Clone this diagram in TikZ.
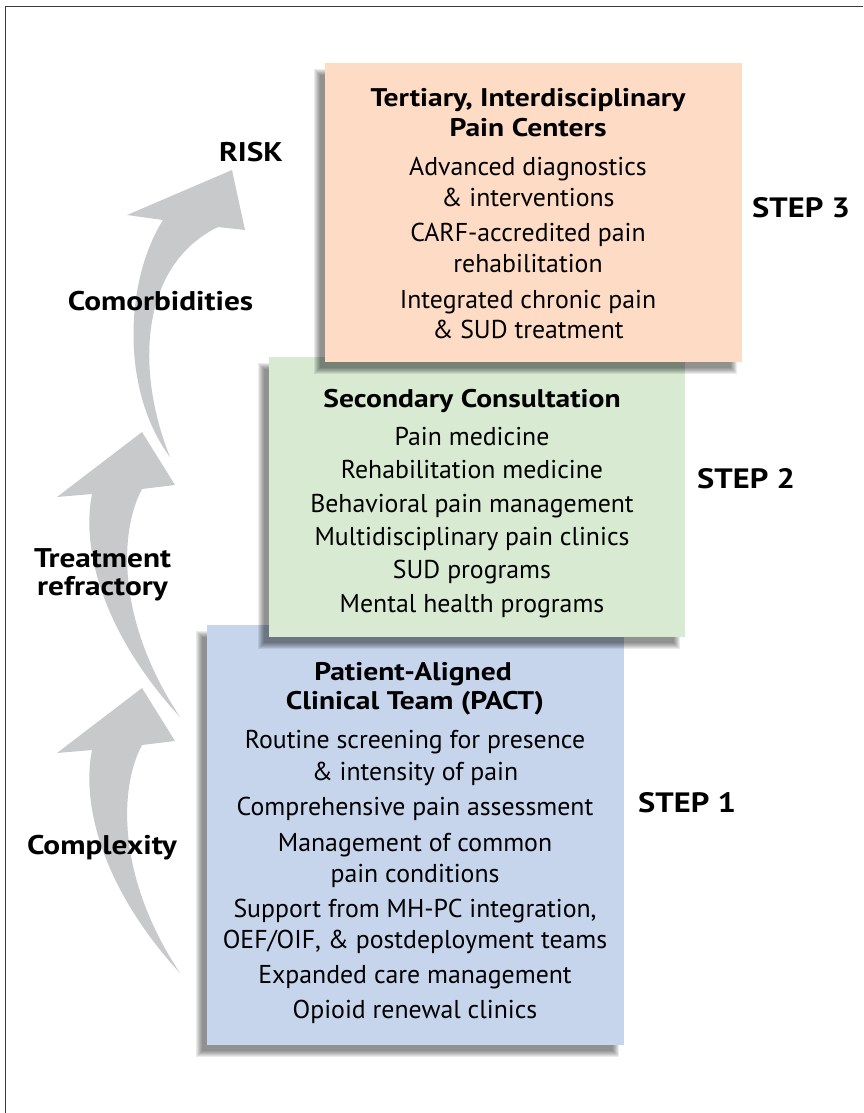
\documentclass[tikz,border=0pt]{standalone}
\usepackage{graphicx}
\usepackage{fontspec}
\setmainfont{PT Sans}
\definecolor{arrowgray}{RGB}{200,201,203}
\definecolor{peach}{RGB}{253,219,197}
\definecolor{mint}{RGB}{217,234,211}
\definecolor{lavblue}{RGB}{198,212,236}
\definecolor{framegray}{RGB}{60,60,60}
\newcommand{\stepshadow}[4]{%
  \foreach \r in {-3,...,3}{%
    \fill[black,opacity=0.08] (#1-8+\r,#2+9+\r) rectangle (#3-8-\r,#4+9-\r);
  }%
}
\newcommand{\bw}[1]{\scalebox{1.16}[1]{#1}}
\begin{document}
\begin{tikzpicture}[x=1pt,y=-1pt,
  stepbox/.style={draw=none,inner sep=0pt,outer sep=0pt,rectangle},
  body/.style={anchor=base,inner sep=0pt,font=\fontsize{25.8}{30}\selectfont},
  hd/.style={anchor=base,inner sep=0pt,font=\fontsize{25.5}{30}\selectfont\bfseries},
  lbl/.style={anchor=base,inner sep=0pt,font=\fontsize{27}{32}\selectfont\bfseries},
  steplbl/.style={anchor=base west,inner sep=0pt,font=\fontsize{28}{32}\selectfont\bfseries},
  curvearrow/.style={fill=arrowgray,draw=none}]
\useasboundingbox (0,0) rectangle (863,1113);
% frame
\draw[framegray,line width=1.5pt] (5.5,1113) -- (5.5,6.5) -- (863,6.5);
% curved arrows
\fill[curvearrow] (180,973) .. controls (108,895) and (80,810) .. (92,750)
  -- (57,753) -- (142,688) -- (175,741) -- (142,745)
  .. controls (118,790) and (118,880) .. (180,973) -- cycle;
\fill[curvearrow] (180,717) .. controls (108,639) and (80,554) .. (92,494)
  -- (57,497) -- (142,432) -- (175,485) -- (142,489)
  .. controls (118,534) and (118,624) .. (180,717) -- cycle;
\fill[curvearrow] (170,457) .. controls (120,390) and (125,280) .. (163,220)
  -- (127,215) -- (232,170) -- (245,230) -- (218,227)
  .. controls (140,265) and (135,370) .. (170,457) -- cycle;
% side labels
\node[lbl] (risk) at (251,161) {\bw{RISK}};
\node[lbl] (comorb) at (160.5,310) {\bw{Comorbidities}};
\node[lbl] (treat1) at (102.5,567) {\bw{Treatment}};
\node[lbl] (treat2) at (102.5,595) {\bw{refractory}};
\node[lbl] (complex) at (102,854) {\bw{Complexity}};
% step 1 box
\stepshadow{207}{625}{624}{1045}
\node[stepbox,fill=lavblue,minimum width=417pt,minimum height=420pt] (b1) at (415.5,835) {};
% step 2 box
\stepshadow{269}{357}{685}{637}
\node[stepbox,fill=mint,minimum width=416pt,minimum height=280pt] (b2) at (477,497) {};
% step 3 box
\stepshadow{325}{63}{742}{362}
\node[stepbox,fill=peach,minimum width=417pt,minimum height=299pt] (b3) at (533.5,212.5) {};
% step 3 text
\node[hd] (t3a) at (528,107) {\bw{Tertiary, Interdisciplinary}};
\node[hd] (t3b) at (528,136) {\bw{Pain Centers}};
\node[body] (t3c) at (528,175) {Advanced diagnostics};
\node[body] (t3d) at (528,206) {\& interventions};
\node[body] (t3e) at (528,241) {CARF-accredited pain};
\node[body] (t3f) at (528,272) {rehabilitation};
\node[body] (t3g) at (528,308) {Integrated chronic pain};
\node[body] (t3h) at (528,338) {\& SUD treatment};
% step 2 text
\node[hd] (t2a) at (472,407) {\bw{Secondary Consultation}};
\node[body] (t2b) at (472,445) {Pain medicine};
\node[body] (t2c) at (472,478) {Rehabilitation medicine};
\node[body] (t2d) at (472,512) {Behavioral pain management};
\node[body] (t2e) at (472,545) {Multidisciplinary pain clinics};
\node[body] (t2f) at (472,578) {SUD programs};
\node[body] (t2g) at (472,612) {Mental health programs};
% step 1 text
\node[hd] (t1a) at (413,680) {\bw{Patient-Aligned}};
\node[hd] (t1b) at (415,709) {\bw{Clinical Team (PACT)}};
\node[body] (t1c) at (415,748) {Routine screening for presence};
\node[body] (t1d) at (415,780) {\& intensity of pain};
\node[body] (t1e) at (415,815) {Comprehensive pain assessment};
\node[body] (t1f) at (415,851) {Management of common};
\node[body] (t1g) at (415,882) {pain conditions};
\node[body] (t1h) at (415,917) {Support from MH-PC integration,};
\node[body] (t1i) at (415,948) {OEF/OIF, \& postdeployment teams};
\node[body] (t1j) at (415,983) {Expanded care management};
\node[body] (t1k) at (415,1018) {Opioid renewal clinics};
% step labels
\node[steplbl] (s3) at (752,217) {\bw{STEP 3}};
\node[steplbl] (s2) at (697,488) {\bw{STEP 2}};
\node[steplbl] (s1) at (638,812) {\bw{STEP 1}};
\end{tikzpicture}
\end{document}
